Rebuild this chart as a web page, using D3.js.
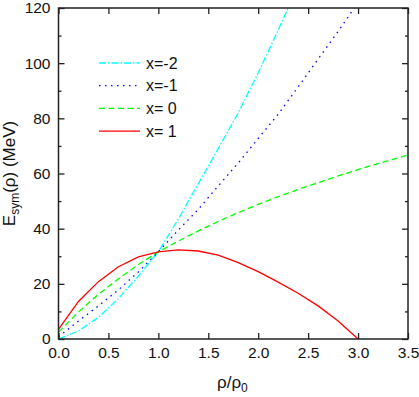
<!DOCTYPE html>
<html>
<head>
<meta charset="utf-8">
<script src="https://cdn.jsdelivr.net/npm/d3@7"></script>
<style>
  body { margin: 0; background: #fff; }
  svg text { font-family: "Liberation Sans", Arial, sans-serif; fill: #111; }
</style>
</head>
<body>
<div id="chart"></div>
<script>
// density grid rho/rho0 and symmetry energy (MeV) for each x
const rho = [0, 0.2, 0.4, 0.6, 0.8, 1.0, 1.2, 1.4, 1.6, 1.8, 2.0, 2.2, 2.4, 2.6, 2.8, 3.0, 3.2, 3.5];
const esymXm2 = [0, 2.9, 7.8, 14.7, 22.8, 31.6, 43.5, 56.3, 69, 82, 96.5, 112, 128, null, null, null, null, null];
const esymXm1 = [0.8, 6.5, 12, 17.8, 24.3, 31.6, 39.5, 47, 55.5, 63.8, 72.7, 81.5, 91.4, 101.5, 111.5, 122, null, null];
const esymX0 = [2.5, 9.8, 16.2, 21.8, 27, 31.6, 35.5, 39.2, 42.6, 45.8, 48.8, 51.6, 54.2, 56.7, 59.1, 61.4, 63.6, 66.7];
const esymX1 = [3.5, 13.6, 20.8, 26.2, 29.8, 31.6, 32.3, 31.9, 30.4, 27.7, 24.4, 20.6, 16.6, 12, 6.5, 0, null, null];

const seriesNames = ['x=-2', 'x=-1', 'x= 0', 'x= 1'];
const seriesValues = [esymXm2, esymXm1, esymX0, esymX1];
const seriesColors = ['#00ffff', '#0000ff', '#00ff00', '#ff0000'];
const seriesDash = ['7,2,1.5,2', '1.5,4.5', '6,3.5', null];

const xTicks = [0, 0.5, 1.0, 1.5, 2.0, 2.5, 3.0, 3.5];
const yTicks = [0, 20, 40, 60, 80, 100, 120];
const yMinor = [10, 30, 50, 70, 90, 110];

const W = 419, H = 397;
const margin = { top: 8, right: 11, bottom: 58, left: 58.5 };
const iw = W - margin.left - margin.right;
const ih = H - margin.top - margin.bottom;

const svg = d3.select('#chart').append('svg').attr('width', W).attr('height', H);
const g = svg.append('g').attr('transform', `translate(${margin.left},${margin.top})`);

const x = d3.scaleLinear().domain([0, 3.5]).range([0, iw]);
const y = d3.scaleLinear().domain([0, 120]).range([ih, 0]);

svg.append('defs').append('clipPath').attr('id', 'clip')
  .append('rect').attr('width', iw).attr('height', ih);

const line = d3.line()
  .defined(d => d[1] != null)
  .x(d => x(d[0]))
  .y(d => y(d[1]));

const plot = g.append('g').attr('clip-path', 'url(#clip)');
seriesValues.forEach((vals, i) => {
  plot.append('path')
    .datum(rho.map((r, j) => [r, vals[j]]).filter(d => d[1] != null))
    .attr('d', line)
    .attr('fill', 'none')
    .attr('stroke', seriesColors[i])
    .attr('stroke-width', 1.3)
    .attr('stroke-dasharray', seriesDash[i]);
});

// axes with inward ticks
const styleAxis = sel => {
  sel.select('.domain').remove();
  sel.selectAll('.tick line').attr('stroke', '#222').attr('stroke-width', 1.3);
  sel.selectAll('.tick text').attr('font-size', 15.5).attr('fill', '#111')
    .attr('font-family', '"Liberation Sans", Arial, sans-serif');
};

g.append('g').attr('transform', `translate(0,${ih})`)
  .call(d3.axisBottom(x).tickValues(xTicks).tickFormat(d3.format('.1f')).tickSize(-6).tickPadding(8))
  .call(styleAxis);
g.append('g')
  .call(d3.axisTop(x).tickValues(xTicks).tickFormat('').tickSize(-6))
  .call(styleAxis);
g.append('g')
  .call(d3.axisLeft(y).tickValues(yTicks).tickFormat(d3.format('d')).tickSize(-6).tickPadding(8))
  .call(styleAxis);
g.append('g')
  .call(d3.axisLeft(y).tickValues(yMinor).tickFormat('').tickSize(-3))
  .call(styleAxis);
g.append('g').attr('transform', `translate(${iw},0)`)
  .call(d3.axisRight(y).tickValues(yTicks).tickFormat('').tickSize(-6))
  .call(styleAxis);
g.append('g').attr('transform', `translate(${iw},0)`)
  .call(d3.axisRight(y).tickValues(yMinor).tickFormat('').tickSize(-3))
  .call(styleAxis);

g.append('rect')
  .attr('width', iw).attr('height', ih)
  .attr('fill', 'none').attr('stroke', '#222').attr('stroke-width', 1.5);

// legend
const legend = g.append('g').attr('transform', `translate(${99 - margin.left},${63 - margin.top})`);
seriesNames.forEach((name, i) => {
  const row = legend.append('g').attr('transform', `translate(0,${i * 22.7})`);
  row.append('line')
    .attr('x1', 0).attr('x2', 41).attr('y1', 0).attr('y2', 0)
    .attr('stroke', seriesColors[i]).attr('stroke-width', 1.3)
    .attr('stroke-dasharray', seriesDash[i]);
  row.append('text')
    .attr('x', 47).attr('y', 0).attr('dy', '0.36em')
    .attr('font-size', 16)
    .text(name);
});

// axis titles
const xt = svg.append('text')
  .attr('x', 217).attr('y', 388)
  .attr('font-size', 17);
xt.append('tspan').text('ρ/ρ');
xt.append('tspan').attr('font-size', 12).attr('dy', 4).text('0');

const yt = svg.append('text')
  .attr('transform', `translate(15,${margin.top + ih / 2}) rotate(-90)`)
  .attr('text-anchor', 'middle')
  .attr('font-size', 17);
yt.append('tspan').text('E');
yt.append('tspan').attr('font-size', 12).attr('dy', 4).text('sym');
yt.append('tspan').attr('dy', -4).text('(ρ) (MeV)');
</script>
</body>
</html>
